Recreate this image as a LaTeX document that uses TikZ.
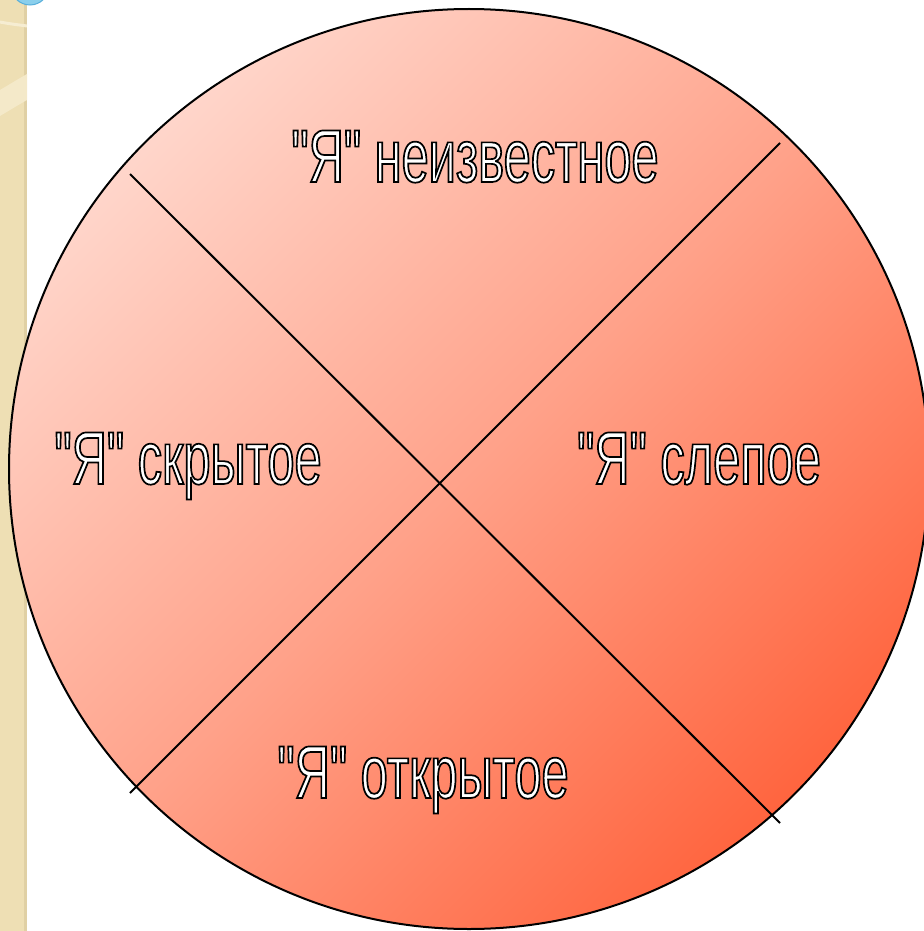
\documentclass[tikz,border=0pt]{standalone}
\usepackage{fontspec}
\newfontfamily\narrowsans[FakeStretch=0.65]{Liberation Sans}
\definecolor{lightpink}{HTML}{FFEAE4}
\definecolor{midsalmon}{HTML}{FFA28A}
\definecolor{darkred}{HTML}{FF4A1E}
\definecolor{beige}{HTML}{EEDFB4}
\definecolor{beigedark}{HTML}{E0D0A4}
\definecolor{beigelight}{HTML}{F6EDD2}
\definecolor{bluefill}{HTML}{8ACFEC}
\definecolor{blueedge}{HTML}{58AEDA}
\pgfdeclarehorizontalshading{redgrad}{100bp}{color(0bp)=(lightpink); color(15bp)=(lightpink); color(50bp)=(midsalmon); color(86bp)=(darkred); color(100bp)=(darkred)}
\newcommand\outlinetext[1]{\special{pdf:literal direct 2 Tr 1.7 w 0 G}#1\special{pdf:literal direct 0 Tr}}
\tikzset{
  divider/.style={draw=black, line width=2pt},
  label/.style={text=white, anchor=base, inner sep=0pt, font=\narrowsans\fontsize{75}{80}\selectfont}
}
\begin{document}
\begin{tikzpicture}[x=1pt,y=-1pt]
\useasboundingbox (0,0) rectangle (923,931);
% left decorative strip
\fill[beige] (0,0) rectangle (27,931);
\fill[beigedark] (24,0) rectangle (27,931);
\begin{scope}
\clip (0,0) rectangle (27,931);
\draw[beigelight, line width=3pt] (0,22) .. controls (10,24) and (20,25) .. (27,26);
\fill[beigelight!70!beige] (0,90) .. controls (10,84) and (20,78) .. (27,74) -- (27,100) .. controls (20,104) and (10,110) .. (0,116) -- cycle;
\end{scope}
\filldraw[fill=bluefill, draw=blueedge, line width=1pt] (30,-14) circle (19);
% main circle
\shade[shading=redgrad, shading angle=-45, draw=black, line width=2pt] (469,469) circle (460);
% dividers
\coordinate (a1) at (130,174);
\coordinate (a2) at (780,823);
\coordinate (b1) at (780,143);
\coordinate (b2) at (130,793);
\draw[divider] (a1) -- (a2);
\draw[divider] (b1) -- (b2);
% labels
\node[label] (unknown) at (475,182) {\outlinetext{"Я" неизвестное}};
\node[label] (hidden) at (188,484) {\outlinetext{"Я" скрытое}};
\node[label] (blind) at (699,484) {\outlinetext{"Я" слепое}};
\node[label] (open) at (423,798) {\outlinetext{"Я" открытое}};
\end{tikzpicture}
\end{document}
